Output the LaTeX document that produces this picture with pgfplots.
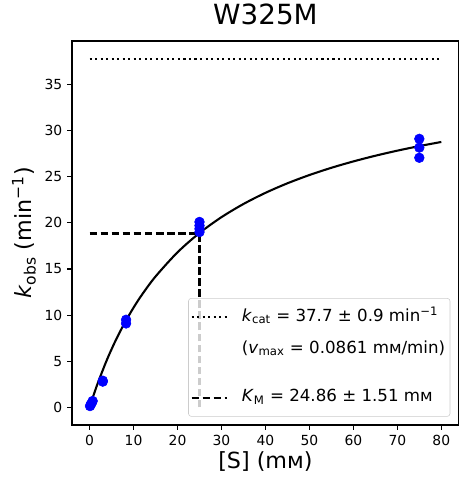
\documentclass[border=0pt]{standalone}
\usepackage{fontspec}
\setmainfont{DejaVu Sans}
\usepackage{pgfplots}
\pgfplotsset{compat=1.18}
\begin{document}
\begin{tikzpicture}
\begin{axis}[name=ax, scale only axis, width=278.6bp, height=276.5bp,
  xmin=-4, xmax=84, ymin=-1.9, ymax=39.7,
  xtick={0,10,...,80}, ytick={0,5,...,35},
  tick pos=left, tick align=outside, major tick length=3.5bp,
  tick style={black, line width=0.8bp},
  axis line style={line width=0.8bp},
  /pgf/number format/assume math mode=true,
  ticklabel style={font=\fontsize{10bp}{12bp}\selectfont},
  title={W325M},
  title style={font=\fontsize{20bp}{24bp}\selectfont, at={(axis description cs:0.5,1.0217)}, anchor=base},
  xlabel={[S] (mм)},
  xlabel style={font=\fontsize{16bp}{19bp}\selectfont, at={(axis description cs:0.5,-0.1121)}, anchor=base},
  ylabel={\textit{k}\textsubscript{obs} (min\textsuperscript{−1})},
  ylabel style={font=\fontsize{16bp}{19bp}\selectfont, at={(axis description cs:-0.1034,0.5)}, anchor=base},
  legend cell align=left,
  legend image code/.code={\draw[#1] (0bp,0bp) -- (25.6bp,0bp); \path (33.5bp,0bp);},
  legend style={at={(axis description cs:1,0)}, anchor=south east, xshift=-6.2bp, yshift=6bp,
    font=\fontsize{12bp}{14bp}\selectfont, draw=black!20, fill=white, fill opacity=0.8, text opacity=1,
    rounded corners=2bp, row sep=7bp, inner xsep=1.5bp, inner ysep=5.5bp,
    nodes={text height=9bp, text depth=3bp, inner sep=2bp}},
]
\addplot[forget plot, black, line width=1.5bp, dash pattern=on 1.5bp off 2.475bp] coordinates {(0,37.7) (80,37.7)};
\addplot[forget plot, black, line width=1.5bp, dash pattern=on 5.55bp off 2.4bp] coordinates {(0,18.85) (25,18.85)};
\addplot[forget plot, black, line width=1.5bp, dash pattern=on 5.55bp off 2.4bp] coordinates {(25,0) (25,18.85)};
\addplot[forget plot, black, line width=1.5bp, smooth] coordinates {
(0,0) (1,1.458) (2,2.807) (4,5.225) (6,7.330) (8,9.178) (10,10.815) (12,12.273) (15,14.187)
(20,16.808) (25,18.903) (30,20.616) (35,22.043) (40,23.250) (45,24.284) (50,25.180)
(55,25.964) (60,26.655) (65,27.270) (70,27.820) (75,28.315) (80,28.762)};
\addplot[forget plot, only marks, mark=*, mark size=3.5bp, blue, mark options={draw=blue, fill=blue}] coordinates {
(0.1,0.15) (0.25,0.3) (0.5,0.5) (0.7,0.7) (3,2.8) (3,2.9)
(8.3,9.1) (8.3,9.5) (25,19.0) (25,19.35) (25,19.7) (25,20.1)
(75,27.05) (75,28.15) (75,29.1)};
\addlegendimage{black, line width=1.5bp, dash pattern=on 1.5bp off 2.475bp}
\addlegendentry{\textit{k}\textsubscript{cat} = 37.7 ± 0.9 min\textsuperscript{−1}}
\addlegendimage{empty legend}
\addlegendentry{(\textit{v}\textsubscript{max} = 0.0861 mм/min)}
\addlegendimage{empty legend}
\addlegendentry[text height=1bp, text depth=0bp]{}
\addlegendimage{black, line width=1.5bp, dash pattern=on 5.55bp off 2.4bp}
\addlegendentry{\textit{K}\textsubscript{M} = 24.86 ± 1.51 mм}
\end{axis}
\path (ax.south west) +(-51.84bp,-42.48bp) coordinate (bl);
\path (ax.north east) +(7.2bp,29.52bp) coordinate (tr);
\pgfresetboundingbox
\path[use as bounding box] (bl) rectangle (tr);
\end{tikzpicture}
\end{document}
